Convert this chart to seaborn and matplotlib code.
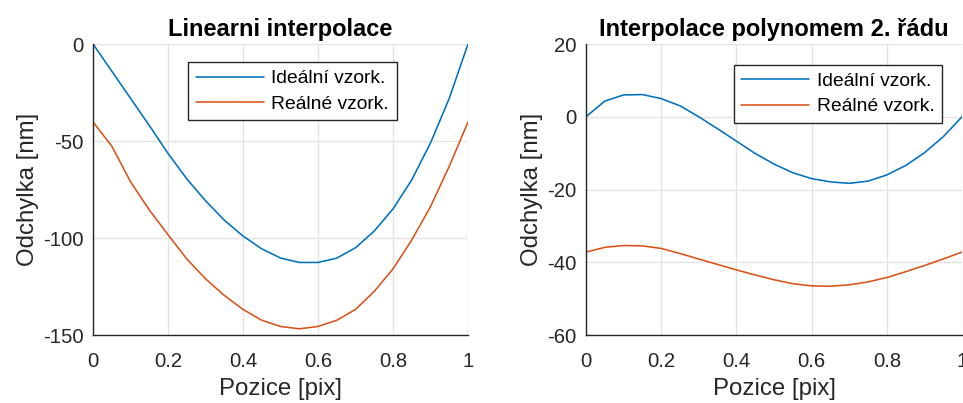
import numpy as np
import pandas as pd
import matplotlib
matplotlib.use("Agg")
import matplotlib.pyplot as plt
import seaborn as sns

# Sample positions within one pixel
pozice = [0.00, 0.05, 0.10, 0.15, 0.20, 0.25, 0.30, 0.35, 0.40, 0.45, 0.50,
          0.55, 0.60, 0.65, 0.70, 0.75, 0.80, 0.85, 0.90, 0.95, 1.00]

# Linear interpolation deviations [nm]
lin_idealni = [0.0, -14.0, -28.0, -42.0, -56.4, -69.5, -80.8, -90.8, -99.0, -105.6, -110.3,
               -112.6, -112.6, -110.4, -105.0, -96.4, -85.0, -70.0, -51.0, -28.0, 0.0]
lin_realne = [-40.2, -52.6, -71.0, -85.5, -98.3, -110.8, -121.0, -129.6, -136.8, -142.4, -145.6,
              -146.8, -145.6, -142.4, -136.8, -127.5, -115.9, -101.0, -83.8, -63.0, -40.2]

# Second-order polynomial interpolation deviations [nm]
pol_idealni = [0.0, 4.3, 6.0, 6.1, 5.0, 3.0, 0.0, -3.3, -6.7, -10.1, -13.0,
               -15.4, -17.0, -17.9, -18.3, -17.7, -16.0, -13.4, -9.9, -5.5, 0.0]
pol_realne = [-37.2, -35.9, -35.4, -35.5, -36.2, -37.6, -39.1, -40.6, -42.1, -43.5, -44.8,
              -45.9, -46.5, -46.6, -46.2, -45.4, -44.2, -42.6, -40.9, -39.1, -37.2]

serie = ["Ideální vzork.", "Reálné vzork."]
barvy = ["#0072BD", "#D95319"]

sns.set_style("white")
plt.rcParams["font.family"] = ["Liberation Sans", "DejaVu Sans"]
ink = "#262626"

fig = plt.figure(figsize=(9.63, 4.03), dpi=100)
ax1 = fig.add_axes([0.0966, 0.1687, 0.3894, 0.7221])
ax2 = fig.add_axes([0.6085, 0.1687, 0.3905, 0.7221])


def long_table(ideal, real):
    return pd.DataFrame({
        "Pozice": pozice * 2,
        "Odchylka": ideal + real,
        "Serie": [serie[0]] * len(pozice) + [serie[1]] * len(pozice),
    })


def draw(ax, ideal, real, title, ylim, yticks, legend_anchor):
    df = long_table(ideal, real)
    sns.lineplot(data=df, x="Pozice", y="Odchylka", hue="Serie",
                 hue_order=serie, palette=barvy, linewidth=1.15, ax=ax)
    ax.set_xlim(0, 1)
    ax.set_ylim(*ylim)
    ax.set_xticks([0, 0.2, 0.4, 0.6, 0.8, 1.0])
    ax.set_xticklabels(["0", "0.2", "0.4", "0.6", "0.8", "1"])
    ax.set_yticks(yticks)
    ax.set_yticklabels([f"{t:g}" for t in yticks])
    ax.grid(True, color="#E3E3E3", linewidth=1.0)
    ax.set_axisbelow(True)
    for side in ("top", "right"):
        ax.spines[side].set_visible(False)
    for side in ("left", "bottom"):
        ax.spines[side].set_color(ink)
        ax.spines[side].set_linewidth(1.0)
    ax.tick_params(direction="in", length=4, width=0.8, colors=ink,
                   labelsize=14.6, labelcolor=ink)
    ax.tick_params(axis="x", pad=12)
    ax.tick_params(axis="y", pad=7)
    ax.set_xlabel("Pozice [pix]", fontsize=17.3, color=ink, labelpad=5)
    ax.set_ylabel("Odchylka [nm]", fontsize=17.3, color=ink, labelpad=3)
    ax.set_title(title, fontsize=17, fontweight="bold", color="black", pad=6)
    leg = ax.legend(loc="upper right", bbox_to_anchor=legend_anchor,
                    borderaxespad=0, fontsize=13.9, frameon=True,
                    fancybox=False, framealpha=1, edgecolor=ink,
                    handlelength=3.5, handletextpad=0.4,
                    borderpad=0.4, labelspacing=0.4)
    leg.get_frame().set_linewidth(1.0)
    for t in leg.get_texts():
        t.set_color("black")


draw(ax1, lin_idealni, lin_realne, "Linearni interpolace",
     (-150, 0), [-150, -100, -50, 0], (0.81, 0.938))
draw(ax2, pol_idealni, pol_realne, "Interpolace polynomem 2. řádu",
     (-60, 20), [-60, -40, -20, 0, 20], (0.947, 0.928))

fig.savefig("out.png", dpi=100)
